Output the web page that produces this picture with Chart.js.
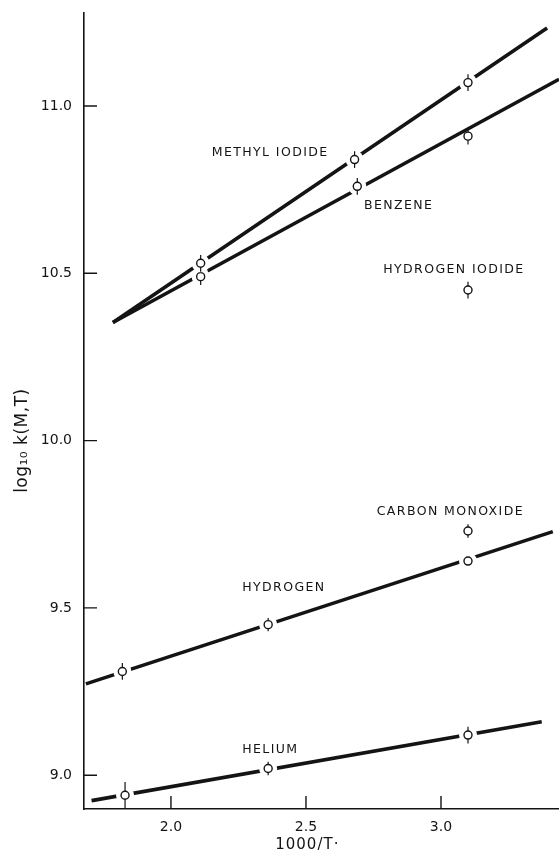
<!DOCTYPE html>
<html>
<head>
<meta charset="utf-8">
<script src="https://cdn.jsdelivr.net/npm/chart.js@4.4.1/dist/chart.umd.min.js"></script>
<style>
  html, body { margin: 0; background: #fff; }
  canvas { display: block; }
</style>
</head>
<body>
<canvas id="rateChart" width="559" height="857"></canvas>
<script>
// measured points: 1000/T against log10 k(M,T)
const methylX = [2.11, 2.68, 3.10];
const methylY = [10.53, 10.84, 11.07];
const methylErr = [0.025, 0.025, 0.025];

const benzeneX = [2.11, 2.69, 3.10];
const benzeneY = [10.49, 10.76, 10.91];
const benzeneErr = [0.025, 0.025, 0.025];

const hIodideX = [3.10];
const hIodideY = [10.45];
const hIodideErr = [0.025];

const coX = [3.10];
const coY = [9.73];
const coErr = [0.02];

const hydrogenX = [1.82, 2.36, 3.10];
const hydrogenY = [9.31, 9.45, 9.64];
const hydrogenErr = [0.025, 0.02, 0];

const heliumX = [1.83, 2.36, 3.10];
const heliumY = [8.94, 9.02, 9.12];
const heliumErr = [0.04, 0.02, 0.025];

// straight lines drawn through the data (end points)
const methylFitX = [1.785, 3.393];
const methylFitY = [10.353, 11.233];
const benzeneFitX = [1.785, 3.437];
const benzeneFitY = [10.353, 11.080];
const hydrogenFitX = [1.685, 3.414];
const hydrogenFitY = [9.273, 9.728];
const heliumFitX = [1.706, 3.373];
const heliumFitY = [8.924, 9.160];

const xTicks = [2.0, 2.5, 3.0];
const yTicks = [9.0, 9.5, 10.0, 10.5, 11.0];

// curve labels, anchored at their left edge in data units
const labelNames = ['METHYL IODIDE', 'BENZENE', 'HYDROGEN IODIDE', 'CARBON MONOXIDE', 'HYDROGEN', 'HELIUM'];
const labelX = [2.151, 2.715, 2.786, 2.762, 2.264, 2.264];
const labelY = [10.859, 10.702, 10.510, 9.788, 9.561, 9.076];

const ink = '#141414';
const font = "'DejaVu Sans', sans-serif";

const toPoints = (xs, ys) => xs.map((v, i) => ({ x: v, y: ys[i] }));

function pointSet(xs, ys, errs, fitX, fitY) {
  return {
    type: 'scatter',
    data: toPoints(xs, ys),
    errors: errs,
    fitX: fitX,
    fitY: fitY,
    pointRadius: 4,
    pointBorderWidth: 1.4,
    pointBackgroundColor: '#fff',
    pointBorderColor: ink,
    showLine: false
  };
}

function fitLine(xs, ys) {
  return {
    type: 'line',
    data: toPoints(xs, ys),
    borderColor: ink,
    borderWidth: 3.6,
    pointRadius: 0,
    borderCapStyle: 'butt',
    tension: 0
  };
}

// gaps in the line around each circle, error bars, inner ticks, titles and labels
const figure = {
  id: 'figure',
  beforeDatasetDraw(chart, args) {
    const ds = chart.data.datasets[args.index];
    if (!ds.errors) return;
    const { ctx, scales: { x, y } } = chart;
    ctx.save();
    ds.data.forEach((p, i) => {
      const px = x.getPixelForValue(p.x);
      const py = y.getPixelForValue(p.y);
      if (ds.fitX) {
        const t = (p.x - ds.fitX[0]) / (ds.fitX[1] - ds.fitX[0]);
        const onLine = ds.fitY[0] + t * (ds.fitY[1] - ds.fitY[0]);
        if (Math.abs(onLine - p.y) < 0.012) {
          ctx.fillStyle = '#fff';
          ctx.beginPath();
          ctx.arc(px, py, 9, 0, Math.PI * 2);
          ctx.fill();
        }
      }
      const e = ds.errors[i];
      if (e > 0) {
        ctx.strokeStyle = ink;
        ctx.lineWidth = 1.2;
        ctx.beginPath();
        ctx.moveTo(px, y.getPixelForValue(p.y + e));
        ctx.lineTo(px, y.getPixelForValue(p.y - e));
        ctx.stroke();
      }
    });
    ctx.restore();
  },
  afterDraw(chart) {
    const { ctx, scales: { x, y }, chartArea: a } = chart;
    ctx.save();
    ctx.strokeStyle = ink;
    ctx.lineWidth = 1.4;
    ctx.beginPath();
    xTicks.forEach(v => {
      const px = x.getPixelForValue(v);
      ctx.moveTo(px, a.bottom);
      ctx.lineTo(px, a.bottom - 13);
    });
    yTicks.forEach(v => {
      const py = y.getPixelForValue(v);
      ctx.moveTo(a.left, py);
      ctx.lineTo(a.left + 13, py);
    });
    ctx.stroke();

    ctx.fillStyle = ink;
    ctx.font = '12.5px ' + font;
    ctx.letterSpacing = '1.4px';
    ctx.textAlign = 'left';
    ctx.textBaseline = 'middle';
    labelNames.forEach((t, i) => {
      ctx.fillText(t, x.getPixelForValue(labelX[i]), y.getPixelForValue(labelY[i]));
    });

    ctx.letterSpacing = '1px';
    ctx.font = '15px ' + font;
    ctx.textAlign = 'center';
    ctx.fillText('1000/T\u00b7', x.getPixelForValue(2.505), 845);

    ctx.font = '17px ' + font;
    ctx.letterSpacing = '0.5px';
    ctx.translate(23, y.getPixelForValue(10.0));
    ctx.rotate(-Math.PI / 2);
    ctx.fillText('log\u2081\u2080 k(M,T)', 0, 0);
    ctx.restore();
  }
};

const ctx = document.getElementById('rateChart').getContext('2d');
const rateChart = new Chart(ctx, {
  data: {
    datasets: [
      pointSet(methylX, methylY, methylErr, methylFitX, methylFitY),
      pointSet(benzeneX, benzeneY, benzeneErr, benzeneFitX, benzeneFitY),
      pointSet(hIodideX, hIodideY, hIodideErr, null, null),
      pointSet(coX, coY, coErr, null, null),
      pointSet(hydrogenX, hydrogenY, hydrogenErr, hydrogenFitX, hydrogenFitY),
      pointSet(heliumX, heliumY, heliumErr, heliumFitX, heliumFitY),
      fitLine(methylFitX, methylFitY),
      fitLine(benzeneFitX, benzeneFitY),
      fitLine(hydrogenFitX, hydrogenFitY),
      fitLine(heliumFitX, heliumFitY)
    ]
  },
  options: {
    responsive: false,
    animation: false,
    layout: { autoPadding: false, padding: { top: 13, right: 0, left: 0, bottom: 0 } },
    plugins: {
      legend: { display: false },
      tooltip: { enabled: false }
    },
    scales: {
      x: {
        type: 'linear',
        min: 1.678,
        max: 3.437,
        afterBuildTicks: s => { s.ticks = xTicks.map(v => ({ value: v })); },
        afterFit: s => { s.height = 48; s.paddingLeft = 0; s.paddingRight = 0; },
        grid: { display: false, drawTicks: false },
        border: { display: true, color: ink, width: 1.6 },
        ticks: {
          color: ink,
          padding: 10,
          maxRotation: 0,
          font: { family: font, size: 14 },
          callback: v => v.toFixed(1)
        }
      },
      y: {
        type: 'linear',
        min: 8.899,
        max: 11.278,
        afterBuildTicks: s => { s.ticks = yTicks.map(v => ({ value: v })); },
        afterFit: s => { s.width = 84; s.paddingTop = 0; s.paddingBottom = 0; },
        grid: { display: false, drawTicks: false },
        border: { display: true, color: ink, width: 1.6 },
        ticks: {
          color: ink,
          padding: 12,
          font: { family: font, size: 14 },
          callback: v => v.toFixed(1)
        }
      }
    }
  },
  plugins: [figure]
});
</script>
</body>
</html>
